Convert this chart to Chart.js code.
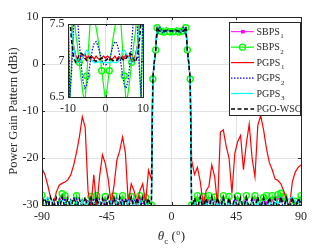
<!DOCTYPE html>
<html><head><meta charset="utf-8">
<script src="https://cdn.jsdelivr.net/npm/chart.js@4/dist/chart.umd.min.js"></script>
<style>
html,body{margin:0;padding:0;background:#fff;}
#wrap{position:relative;width:332px;height:249px;}
canvas{position:absolute;left:0;top:0;}
</style></head><body>
<div id="wrap"><canvas id="main" width="332" height="249"></canvas><canvas id="inset" width="332" height="249"></canvas></div>
<script>
// ---- angles (deg) ----
const angles = [
-90,-88,-86,-84,-82,-80,-78,-76,-74,-72,-70,-68,-66,-64,-62,-60,-58,-56,-54,-52,-50,-48,-46,-44,-42,-40,-38,-36,-34,-32,-30,-28,-26,-24,-22,-20,-18,-16,-14,
-13,-12,-11,-10,-9.5,-9,-8.5,-8,-7.5,-7,-6.5,-6,-5.5,-5,-4.5,-4,-3.5,-3,-2.5,-2,-1.5,-1,-0.5,0,0.5,1,1.5,2,2.5,3,3.5,4,4.5,5,5.5,6,6.5,7,7.5,8,8.5,9,9.5,10,11,12,13,
14,16,18,20,22,24,26,28,30,32,34,36,38,40,42,44,46,48,50,52,54,56,58,60,62,64,66,68,70,72,74,76,78,80,82,84,86,88,90];

// ---- series (dBi) ----
const sbps1 = [
-28.6,-31,-29.2,-31,-29.5,-31,-29.2,-28.3,-28.7,-31,-29.5,-31,-28.7,-31,-29.3,-31,-30,-28.8,-31,-28.7,
-31,-29.5,-28.9,-31,-29.5,-28.8,-31,-29.5,-28.7,-31,-29.5,-28.9,-31,-29.5,-28.7,-29.8,-29.0,-31,-30.5,
-3.2,0.2,3.0,7.9,7.75,7.45,7.2,7.08,7.0,6.97,7.08,7.04,7.09,7.03,7.06,7.01,7.05,7.02,7.06,7.03,7.01,7.04,7.06,7.03,
7.06,7.04,7.01,7.03,7.06,7.02,7.05,7.01,7.06,7.03,7.09,7.04,7.08,6.97,7.0,7.08,7.2,7.45,7.75,7.9,3.0,0.2,-3.2,
-30.5,-31,-28.7,-31,-28.9,-31,-28.7,-31,-29.0,-31,-29.5,-28.7,-31,-28.9,-31,-29.5,-28.8,-31,-29.5,-28.7,
-31,-29.5,-28.7,-31,-29.5,-29.1,-29.6,-31,-28.7,-31,-28.5,-28.2,-28.9,-31,-29.8,-31,-29.6,-31,-28.7];

const sbps2 = [
-27.9,-31,-28.6,-31,-29,-31,-28.6,-27.6,-28,-31,-29,-31,-28,-31,-28.8,-31,-30,-28.2,-31,-28,
-31,-29,-28.2,-31,-29,-28.1,-31,-29,-28,-31,-29,-28.2,-31,-29,-28,-29.2,-28.4,-31,-30,
-3.2,0.2,3.0,7.7,6.4,7.05,7.7,7.4,7.2,6.975,6.75,6.55,6.4,6.79,7.2,7.6,7.75,7.6,7.45,7.3,7.1,6.86,6.65,6.45,
6.65,6.86,7.1,7.3,7.45,7.6,7.75,7.6,7.2,6.79,6.4,6.55,6.75,6.975,7.2,7.4,7.7,7.05,6.4,7.7,3.0,0.2,-3.2,
-30,-31,-28,-31,-28.2,-31,-28,-31,-28.3,-31,-29,-28,-31,-28.2,-31,-29,-28.1,-31,-29,-28,
-31,-29,-28,-31,-29,-28.4,-28,-31,-28,-31,-27.8,-27.5,-28.2,-31,-29.5,-31,-29.2,-31,-28];

const pgps1 = [
-22.2,-23.5,-25.8,-28.5,-29.8,-27.2,-25.8,-25.4,-25.1,-24.6,-23.6,-21.5,-18.8,-15.5,-11.2,-13.5,-27,-30.5,-23.6,-30.5,
-24,-19.3,-21.2,-24.5,-29.8,-26,-20.5,-18.5,-15.5,-19,-29.8,-25.5,-27,-29.5,-27,-25.5,-29.6,-22.6,-24.5,
-3.2,0.2,3.0,7.9,7.75,7.45,7.2,7.08,7.0,6.97,7.08,7.04,7.09,7.03,7.06,7.01,7.05,7.02,7.06,7.03,7.01,7.04,7.06,7.03,
7.06,7.04,7.01,7.03,7.06,7.02,7.05,7.01,7.06,7.03,7.09,7.04,7.08,6.97,7.0,7.08,7.2,7.45,7.75,7.9,3.0,0.2,-3.2,
-20.5,-23.5,-22,-25,-30,-27,-26,-21.5,-24,-30,-14.5,-14,-17.5,-20,-27.5,-19,-16.5,-15.2,-22.5,-17,
-12.8,-20,-24,-13,-11,-14,-18,-21,-22.5,-24.5,-24.8,-25.5,-27,-29,-30.5,-25,-23,-22,-21.5];

const pgps2 = [
-28.9,-31,-28.7,-31,-28.9,-31,-28.8,-31,-28.6,-31,-28.9,-31,-28.7,-31,-28.8,-31,-28.9,-31,-28.6,-31,
-28.8,-31,-28.7,-31,-28.9,-31,-28.6,-31,-28.8,-31,-28.7,-31,-28.9,-31,-28.6,-31,-28.8,-31,-31,
-3.2,0.2,3.0,7.8,6.5,6.9,7.45,7.8,7.6,7.25,6.95,6.72,6.62,6.66,6.82,7.0,7.15,7.24,7.26,7.2,7.1,7.0,6.95,6.94,
6.95,7.0,7.1,7.2,7.26,7.24,7.15,7.0,6.82,6.66,6.62,6.72,6.95,7.25,7.6,7.8,7.45,6.9,6.5,7.8,3.0,0.2,-3.2,
-31,-28.8,-31,-28.6,-31,-28.9,-31,-28.7,-31,-28.8,-31,-28.6,-31,-28.9,-31,-28.7,-31,-28.8,-31,-28.6,
-31,-28.9,-31,-28.7,-31,-28.8,-31,-28.6,-31,-28.9,-31,-28.7,-31,-28.8,-31,-28.6,-31,-28.9,-30.5];

const pgps3 = [
-29.3,-28.9,-28.5,-28.6,-29.5,-30.6,-29.5,-28.9,-29.8,-31,-29.2,-31,-29.4,-31,-29.1,-31,-29.3,-31,-29.5,-31,
-29.2,-31,-29.4,-31,-29.1,-31,-29.3,-31,-29.5,-31,-29.2,-31,-29.4,-31,-29.1,-31,-29.3,-31,-31,
-3.2,0.2,3.0,7.9,7.7,7.45,7.2,7.05,6.98,6.97,7.0,7.05,7.1,7.14,7.12,7.05,6.99,6.97,6.97,6.98,6.98,6.97,6.97,6.98,
6.97,6.97,6.98,6.98,6.97,6.97,6.99,7.05,7.12,7.14,7.1,7.05,7.0,6.97,6.98,7.05,7.2,7.45,7.7,7.9,3.0,0.2,-3.2,
-31,-29.3,-31,-29.1,-31,-29.4,-31,-29.2,-31,-29.5,-31,-29.3,-31,-29.1,-31,-29.4,-31,-29.2,-31,-29.5,
-31,-29.3,-31,-29.1,-31,-29.4,-31,-29.0,-30.6,-29.5,-29.3,-31,-30.6,-29.2,-28.6,-28.3,-29.2,-29.4,-29.0];

const pgoWsc = [
-29.5,-28.6,-30.8,-28.4,-30.6,-28.5,-30.9,-28.3,-30.7,-28.6,-30.8,-28.4,-30.6,-28.7,-30.9,-28.3,-30.8,-28.5,-30.7,-28.4,
-30.9,-28.6,-30.6,-28.3,-30.8,-28.5,-30.7,-28.4,-30.9,-28.6,-30.8,-28.3,-30.6,-28.5,-30.9,-28.4,-30.7,-28.6,-31,
-3.2,0.2,3.0,7.9,7.55,7.25,7.05,6.98,7.02,7.08,7.1,7.08,7.03,7.0,7.02,7.05,7.03,7.0,6.99,7.0,7.02,7.03,7.02,7.0,
7.02,7.03,7.02,7.0,6.99,7.0,7.03,7.05,7.02,7.0,7.03,7.08,7.1,7.08,7.02,6.98,7.05,7.25,7.55,7.9,3.0,0.2,-3.2,
-31,-28.5,-30.7,-28.4,-30.9,-28.6,-30.6,-28.3,-30.8,-28.5,-30.7,-28.4,-30.9,-28.6,-30.8,-28.3,-30.6,-28.5,-30.9,-28.4,
-30.7,-28.6,-30.8,-28.3,-30.6,-28.5,-30.9,-28.4,-30.7,-28.6,-30.8,-28.3,-30.6,-28.5,-30.9,-28.4,-30.7,-28.7,-29.6];

// marker positions (angles where markers are shown)
const sbps2MarkerAngles = [-90,-76,-74,-66,-58,-56,-52,-46,-40,-34,-28,-22,-18,-14,-13,-11,-10,-7,-5,-1,1,5,7,10,11,13,14,18,22,26,30,36,40,46,52,58,64,66,70,74,76,78,86,90];
const sbps1MarkerAngles = [-90,-76,-74,-66,-56,-52,-46,-40,-34,-28,-22,-18,18,22,26,30,36,40,46,52,58,64,66,70,74,76,78,90];

// ---- names & ticks ----
const seriesNames = ['SBPS','SBPS','PGPS','PGPS','PGPS','PGO-WSC'];
const seriesSubs  = ['1','2','1','2','3',''];
const xTickValues = [-90,-45,0,45,90];
const xTickLabels = ['-90','-45','0','45','90'];
const yTickValues = [10,0,-10,-20,-30];
const yTickLabels = ['10','0','-10','-20','-30'];
const insetXTickValues = [-10,0,10];
const insetXTickLabels = ['-10','0','10'];
const insetYTickValues = [7.5,7,6.5];
const insetYTickLabels = ['7.5','7','6.5'];

const AX = '#262626';
const SERIF = '"Liberation Serif","Times New Roman",serif';
const set1 = new Set(sbps1MarkerAngles), set2 = new Set(sbps2MarkerAngles);
const pts = v => angles.map((a,i)=>({x:a,y:v[i]}));

function makeDatasets(){
  return [
    {label:'SBPS1', data:pts(sbps1), borderColor:'#ff00ff', borderWidth:1, pointStyle:'rect',
     pointRadius:c=>set1.has(angles[c.dataIndex])?1.8:0, pointBackgroundColor:'#ff00ff', pointBorderColor:'#ff00ff', pointBorderWidth:1, order:6},
    {label:'SBPS2', data:pts(sbps2), borderColor:'#00ff00', borderWidth:1.2, pointStyle:'circle',
     pointRadius:c=>set2.has(angles[c.dataIndex])?3:0, pointBackgroundColor:'rgba(0,0,0,0)', pointBorderColor:'#00ff00', pointBorderWidth:1.4, order:5},
    {label:'PGPS1', data:pts(pgps1), borderColor:'#ff0000', borderWidth:1.2, pointRadius:0, order:4},
    {label:'PGPS2', data:pts(pgps2), borderColor:'#0000ff', borderWidth:1.2, borderDash:[1.5,1.5], pointRadius:0, order:3},
    {label:'PGPS3', data:pts(pgps3), borderColor:'#00ffff', borderWidth:1.2, pointRadius:0, order:2},
    {label:'PGO-WSC', data:pts(pgoWsc), borderColor:'#000000', borderWidth:1.5, borderDash:[4,2.5], pointRadius:0, order:1}
  ];
}

function frameAndTicks(chart, xv, xl, yv, yl, tickLen){
  const {ctx, chartArea:{left,top,right,bottom}, scales:{x,y}} = chart;
  ctx.save();
  ctx.strokeStyle = AX; ctx.lineWidth = 1; ctx.setLineDash([]);
  ctx.strokeRect(left+0.5, top+0.5, right-left, bottom-top);
  ctx.beginPath();
  xv.forEach(v=>{ const p=Math.round(x.getPixelForValue(v))+0.5;
    ctx.moveTo(p,bottom); ctx.lineTo(p,bottom-tickLen); ctx.moveTo(p,top); ctx.lineTo(p,top+tickLen); });
  yv.forEach(v=>{ const p=Math.round(y.getPixelForValue(v))+0.5;
    ctx.moveTo(left,p); ctx.lineTo(left+tickLen,p); ctx.moveTo(right,p); ctx.lineTo(right-tickLen,p); });
  ctx.stroke();
  ctx.fillStyle = AX; ctx.font = '12px '+SERIF;
  ctx.textAlign='center'; ctx.textBaseline='middle';
  xv.forEach((v,i)=>ctx.fillText(xl[i], x.getPixelForValue(v), bottom+11.5));
  ctx.textAlign='right';
  yv.forEach((v,i)=>ctx.fillText(yl[i], left-3.5, y.getPixelForValue(v)));
  ctx.restore();
}

const mainPlugin = {
  id:'mainDeco',
  afterDraw(chart){
    frameAndTicks(chart, xTickValues, xTickLabels, yTickValues, yTickLabels, 3);
    const ctx = chart.ctx;
    ctx.save();
    ctx.fillStyle = AX;
    // y title
    ctx.save();
    ctx.translate(16.5, 111); ctx.rotate(-Math.PI/2);
    ctx.font = '12.5px '+SERIF; ctx.textAlign='center'; ctx.textBaseline='alphabetic';
    ctx.fillText('Power Gain Pattern (dBi)', 0, 0);
    ctx.restore();
    // x title: θ_c (°)
    const base = 239.5;
    ctx.textBaseline='alphabetic'; ctx.textAlign='left';
    const fTheta='italic 13px '+SERIF, fSub='9px '+SERIF, fMain='13px '+SERIF, fSup='8px '+SERIF;
    ctx.font=fTheta; const wT=ctx.measureText('θ').width;
    ctx.font=fSub; const wC=ctx.measureText('c').width;
    ctx.font=fMain; const wP=ctx.measureText(' (').width, wQ=ctx.measureText(')').width;
    ctx.font=fSup; const wO=ctx.measureText('o').width;
    const total = wT+wC+wP+wO+wQ+1;
    let cx = 171.5 - total/2;
    ctx.font=fTheta; ctx.fillText('θ', cx, base); cx+=wT;
    ctx.font=fSub; ctx.fillText('c', cx, base+4.5); cx+=wC;
    ctx.font=fMain; ctx.fillText(' (', cx, base); cx+=wP;
    ctx.font=fSup; ctx.fillText('o', cx+0.5, base-5); cx+=wO+1;
    ctx.font=fMain; ctx.fillText(')', cx, base);
    // legend
    const bx=229.5, by=22.5, bw=71, bh=93;
    ctx.fillStyle='#fff'; ctx.fillRect(bx,by,bw,bh);
    ctx.strokeStyle=AX; ctx.lineWidth=1; ctx.strokeRect(bx,by,bw,bh);
    chart.data.datasets.forEach((ds,i)=>{
      const ly = 31.7 + 15.45*i;
      ctx.save();
      ctx.strokeStyle=ds.borderColor; ctx.lineWidth=ds.borderWidth; ctx.setLineDash(ds.borderDash||[]);
      ctx.beginPath(); ctx.moveTo(231,ly); ctx.lineTo(254,ly); ctx.stroke();
      ctx.setLineDash([]);
      if(i===0){ ctx.fillStyle='#ff00ff'; ctx.fillRect(241,ly-1.8,3.6,3.6); }
      if(i===1){ ctx.strokeStyle='#00ff00'; ctx.lineWidth=1.4; ctx.beginPath(); ctx.arc(242.5,ly,3,0,Math.PI*2); ctx.stroke(); }
      ctx.restore();
      ctx.fillStyle=AX; ctx.textAlign='left'; ctx.textBaseline='alphabetic';
      ctx.font='10px '+SERIF;
      ctx.fillText(seriesNames[i], 256.5, ly+3.3);
      const w=ctx.measureText(seriesNames[i]).width;
      if(seriesSubs[i]){ ctx.font='7px '+SERIF; ctx.fillText(seriesSubs[i], 256.5+w+0.5, ly+6.5); }
    });
    ctx.restore();
  }
};

const noAxisTicks = {display:false};
function scaleCfg(min,max,vals){
  return {type:'linear', min, max,
    afterBuildTicks: s=>{ s.ticks = vals.map(v=>({value:v})); },
    ticks:noAxisTicks, grid:{color:'#e2e2e2', lineWidth:1, drawTicks:false}, border:{display:false}};
}

new Chart(document.getElementById('main'), {
  type:'line',
  data:{datasets:makeDatasets()},
  options:{
    responsive:false, animation:false, devicePixelRatio:1,
    layout:{padding:{left:42, top:17, right:31, bottom:44}},
    scales:{x:scaleCfg(-90,90,xTickValues), y:scaleCfg(-30,10,yTickValues)},
    plugins:{legend:{display:false}, tooltip:{enabled:false}},
    elements:{line:{tension:0}}
  },
  plugins:[mainPlugin]
});

const insetPlugin = {
  id:'insetDeco',
  beforeDraw(chart){
    const {ctx, chartArea:{left,top,right,bottom}} = chart;
    ctx.save(); ctx.fillStyle='#fff'; ctx.fillRect(left,top,right-left,bottom-top); ctx.restore();
  },
  afterDraw(chart){
    frameAndTicks(chart, insetXTickValues, insetXTickLabels, insetYTickValues, insetYTickLabels, 2);
  }
};

new Chart(document.getElementById('inset'), {
  type:'line',
  data:{datasets:makeDatasets()},
  options:{
    responsive:false, animation:false, devicePixelRatio:1,
    layout:{padding:{left:68, top:24, right:189, bottom:152}},
    scales:{x:scaleCfg(-10,10,insetXTickValues), y:scaleCfg(6.5,7.5,insetYTickValues)},
    plugins:{legend:{display:false}, tooltip:{enabled:false}},
    elements:{line:{tension:0}}
  },
  plugins:[insetPlugin]
});
</script>
</body></html>
